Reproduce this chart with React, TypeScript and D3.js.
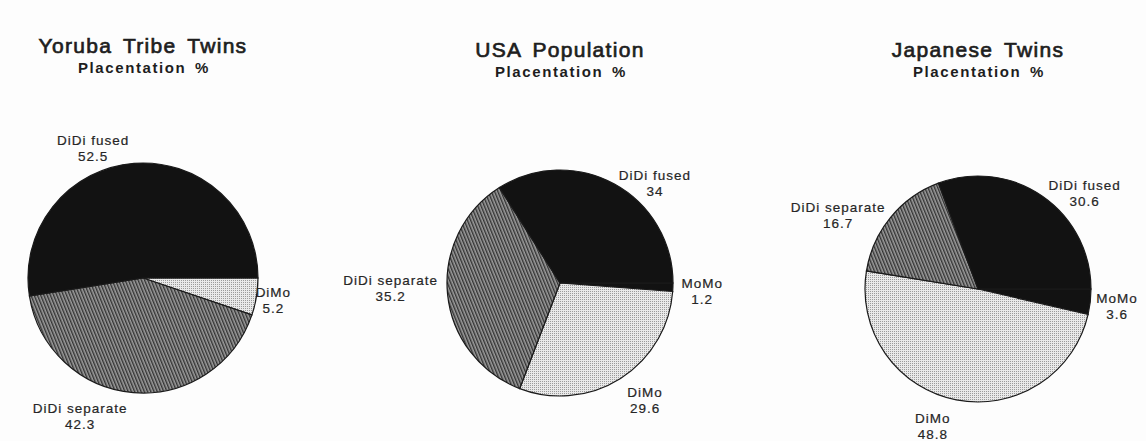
import { useEffect } from "react";
import * as d3 from "d3";

// slice order, clockwise starting at 3 o'clock
const categories = ["MoMo", "DiMo", "DiDi separate", "DiDi fused"];

const titles = ["Yoruba Tribe Twins", "USA Population", "Japanese Twins"];
const subtitle = "Placentation %";

const yorubaValues = [null, 5.2, 42.3, 52.5];
const usaValues = [1.2, 29.6, 35.2, 34];
const japanValues = [3.6, 48.8, 16.7, 30.6];

const seriesValues = [yorubaValues, usaValues, japanValues];

// layout per chart
const layout = [
  { cx: 143, cy: 278, r: 115, titleY: 53 },
  { cx: 560, cy: 283, r: 113, titleY: 57 },
  { cx: 978, cy: 289, r: 113, titleY: 57 },
];

// label placement: [angle in degrees clockwise from 12 o'clock, distance / radius]
const labelPlace: Record<string, [number, number]>[] = [
  { "DiDi fused": [-21, 1.21], DiMo: [99.6, 1.15], "DiDi separate": [204.5, 1.32] },
  { "DiDi fused": [43.5, 1.22], MoMo: [93.2, 1.26], "DiDi separate": [268.3, 1.5], DiMo: [144, 1.28] },
  { "DiDi fused": [48, 1.27], MoMo: [97, 1.24], "DiDi separate": [297.9, 1.4], DiMo: [198.2, 1.28] },
];

const fills: Record<string, string> = {
  MoMo: "#121212",
  DiMo: "url(#dots)",
  "DiDi separate": "url(#hatch)",
  "DiDi fused": "#121212",
};

const FONT = "'Liberation Sans', Arial, Helvetica, sans-serif";
const rad = (deg: number) => (deg * Math.PI) / 180;

function Pie({ values, idx }: { values: (number | null)[]; idx: number }) {
  const { cx, cy, r, titleY } = layout[idx];
  const data = categories
    .map((name, i) => ({ name, value: values[i] }))
    .filter((d) => d.value != null) as { name: string; value: number }[];

  const pie = d3
    .pie<{ name: string; value: number }>()
    .sort(null)
    .value((d) => d.value)
    .startAngle(rad(90))
    .endAngle(rad(450));
  const arcs = pie(data);
  const arcGen = d3.arc<any>().innerRadius(0).outerRadius(r);

  return (
    <g>
      <text
        x={cx}
        y={titleY}
        textAnchor="middle"
        fontFamily={FONT}
        fontSize={21}
        letterSpacing={1.3}
        wordSpacing={4}
        fill="#1e1e1e"
        stroke="#1e1e1e"
        strokeWidth={0.7}
      >
        {titles[idx]}
      </text>
      <text
        x={cx + 1}
        y={titleY + 20}
        textAnchor="middle"
        fontFamily={FONT}
        fontSize={15}
        fontWeight="bold"
        letterSpacing={1.6}
        wordSpacing={3}
        fill="#1e1e1e"
      >
        {subtitle}
      </text>
      <g transform={`translate(${cx},${cy})`}>
        {arcs.map((a) => (
          <path
            key={a.data.name}
            d={arcGen(a) || ""}
            fill={fills[a.data.name]}
            stroke="#1a1a1a"
            strokeWidth={1.2}
          />
        ))}
        {arcs.map((a) => {
          const place = labelPlace[idx][a.data.name];
          const k = place[1] * r;
          const [lx, ly] = d3
            .arc<any>()
            .innerRadius(k)
            .outerRadius(k)
            .centroid({ startAngle: rad(place[0]), endAngle: rad(place[0]) });
          return (
            <text
              key={"l" + a.data.name}
              textAnchor="middle"
              fontFamily={FONT}
              fontSize={13.5}
              letterSpacing={1}
              fill="#262626"
              stroke="#262626"
              strokeWidth={0.2}
            >
              <tspan x={lx} y={ly - 3.3}>
                {a.data.name}
              </tspan>
              <tspan x={lx} y={ly + 12.7}>
                {String(a.data.value)}
              </tspan>
            </text>
          );
        })}
      </g>
    </g>
  );
}

export default function App() {
  useEffect(() => {
    document.body.style.margin = "0";
  }, []);

  return (
    <svg width={1146} height={441} style={{ display: "block", background: "#fdfdfd" }}>
      <defs>
        <pattern id="hatch" width={3} height={3} patternUnits="userSpaceOnUse" patternTransform="rotate(-22)">
          <rect width={3} height={3} fill="#9c9c9c" />
          <rect width={1.4} height={3} fill="#333" />
        </pattern>
        <pattern id="dots" width={2} height={2} patternUnits="userSpaceOnUse">
          <rect width={2} height={2} fill="#e9e9e9" />
          <rect width={1} height={1} fill="#9a9a9a" />
        </pattern>
      </defs>
      <rect width={1146} height={441} fill="#fdfdfd" />
      {seriesValues.map((v, i) => (
        <Pie key={titles[i]} values={v} idx={i} />
      ))}
    </svg>
  );
}
